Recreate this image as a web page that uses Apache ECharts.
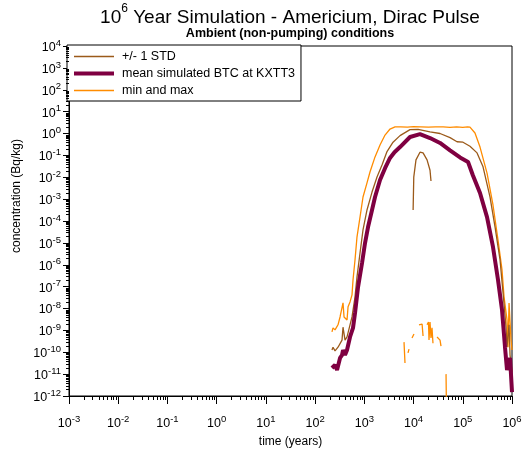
<!DOCTYPE html>
<html>
<head>
<meta charset="utf-8">
<script src="https://cdn.jsdelivr.net/npm/echarts@6/dist/echarts.min.js"></script>
<style>
  html, body { margin: 0; padding: 0; background: #fff; }
  #chart { width: 525px; height: 451px; }
</style>
</head>
<body>
<div id="chart"></div>
<script>
const FONT = "'Liberation Sans', Arial, Helvetica, sans-serif";

// Axis ranges (decade exponents of the tick labels)
const xTickExps = [-3, -2, -1, 0, 1, 2, 3, 4, 5, 6];
const yTickExps = [-12, -11, -10, -9, -8, -7, -6, -5, -4, -3, -2, -1, 0, 1, 2, 3, 4];

// Mean simulated breakthrough curve at KXTT3 (time in years, concentration in Bq/kg)
const meanTime = [220, 254, 279, 321, 352, 369, 405, 445, 512, 589, 647, 745, 898, 1033, 1189, 1433, 1649, 2083,
  2633, 3326, 4100, 5310, 8470, 13500, 21600, 34500, 55100, 87900, 128000, 161000, 224000, 311000, 411000,
  520000, 627000, 721000, 792000, 912000, 1000000];
const meanConc = [1.9e-11, 2.6e-11, 1.55e-11, 5.5e-11, 7.4e-11, 1.26e-10, 7.4e-11, 1.26e-10, 5e-10, 1.3e-9, 6.2e-9,
  9.5e-8, 1.2e-6, 9.8e-6, 5.3e-5, 3.2e-4, 1.25e-3, 7.5e-3, 0.026, 0.076, 0.14, 0.24, 0.69, 0.93, 0.62, 0.37, 0.17,
  0.08, 0.05, 0.012, 1.9e-3, 1.5e-4, 6.5e-6, 2e-7, 8.5e-9, 1.7e-10, 1.55e-11, 5.5e-11, 1.5e-12];

// Mean + 1 standard deviation
const stdHiTime = [220, 231, 254, 292, 352, 369, 405, 445, 512, 562, 647, 710, 817, 940, 1133, 1433, 1810, 2286,
  2890, 3830, 5310, 8470, 12330, 21600, 34500, 55100, 76400, 101000, 140000, 195000, 258000, 357000, 452000,
  571000, 658000, 757000, 792000, 871000, 912000, 1000000];
const stdHiConc = [1.26e-10, 1.7e-10, 1.15e-10, 1.7e-10, 3.6e-10, 1.4e-9, 3.6e-10, 5e-10, 1.8e-9, 4.1e-9, 3.4e-8,
  2.8e-7, 3.4e-6, 3.9e-5, 3.2e-4, 2.1e-3, 0.0103, 0.036, 0.15, 0.40, 0.80, 1.5, 1.55, 1.2, 1.0, 0.65, 0.42, 0.40,
  0.26, 0.13, 0.03, 1.26e-3, 5.4e-5, 1.7e-6, 5.1e-8, 1.4e-9, 1.7e-10, 1.8e-9, 7.4e-11, 1.26e-11];

// Mean - 1 standard deviation (only defined where positive)
const stdLoTime = [9800, 10100, 11200, 13500, 15600, 18800, 21600, 22600];
const stdLoConc = [3.2e-4, 0.0102, 0.062, 0.14, 0.13, 0.062, 0.021, 0.0067];

// Maximum over realizations
const maxTime = [220, 231, 254, 292, 321, 369, 387, 445, 467, 512, 562, 589, 647, 710, 817, 940, 1133, 1303, 1649,
  2083, 2633, 3326, 4200, 5500, 7500, 10000, 14000, 20000, 28000, 40000, 55000, 75000, 100000, 125000, 140000,
  177000, 224000, 311000, 411000, 520000, 627000, 689000, 792000, 830000, 871000, 912000, 955000, 1000000];
const maxConc = [8.5e-10, 1.3e-9, 1.05e-9, 1.8e-9, 4.1e-9, 1.8e-8, 4.1e-9, 3e-9, 1.2e-8, 2e-8, 4.2e-8, 2e-7, 1.7e-6,
  1.9e-5, 1.5e-4, 1.25e-3, 5.5e-3, 0.0174, 0.085, 0.30, 0.85, 1.6, 2.0, 2.0, 1.95, 2.05, 2.0, 1.95, 2.0, 2.0, 1.9,
  2.0, 1.9, 2.0, 1.95, 1.05, 0.24, 0.0155, 5.4e-4, 1.35e-5, 5.8e-7, 3.4e-8, 3e-9, 1.7e-10, 1.8e-8, 1.8e-8, 3.6e-10,
  1.26e-10];

// Minimum over realizations (null = gap, no positive value)
const minTime = [6400, 6700, 7200, 7710, 8090, 8700, 9300, 10200, 11500, 12900, 14900, 15600, 17000, 18800, 20100,
  20600, 21600, 22600, 23700, 24800, 27000, 30000, 34500, 36100, 41000, 45700, 46800];
const minConc = [2.9e-10, 3.2e-11, null, 9.3e-11, 1.4e-10, null, 4.5e-10, 6.8e-10, null, 1.8e-9, 1.95e-9, 5.5e-10,
  null, 1.8e-9, 2.4e-9, 3.6e-10, 2.4e-9, 4.5e-10, 1.3e-9, 2.6e-10, null, 5e-10, 3.6e-10, 1.9e-10, null, 1.0e-11,
  1e-13];

const X_MIN = Math.pow(10, xTickExps[0]);
const X_MAX = Math.pow(10, xTickExps[xTickExps.length - 1]);
const Y_MIN = Math.pow(10, yTickExps[0]);
const Y_MAX = Math.pow(10, yTickExps[yTickExps.length - 1]);

const pairs = (t, c) => t.map((v, i) => [v, c[i] == null ? '-' : c[i]]);

// minor tick positions (2..9 x 10^n) inside each decade
function minorValues(exps) {
  const out = [];
  for (let i = 0; i < exps.length - 1; i++) {
    for (let k = 2; k <= 9; k++) out.push(k * Math.pow(10, exps[i]));
  }
  return out;
}
const xMinor = minorValues(xTickExps).map(v => [v, Y_MIN]);
const yMinor = minorValues(yTickExps).map(v => [X_MIN, v]);

const expLabel = v => '{b|10}{sup|' + Math.round(Math.log10(v)) + '}';
const labelRich = {
  b: { fontFamily: FONT, fontSize: 12.5, color: '#000', lineHeight: 16, verticalAlign: 'bottom' },
  sup: { fontFamily: FONT, fontSize: 9.5, color: '#000', lineHeight: 7, verticalAlign: 'top' }
};

const C_STD = '#9B5A1A';
const C_MEAN = '#7F0041';
const C_MM = '#FF8C00';

const chart = echarts.init(document.getElementById('chart'), null, { renderer: 'canvas' });

chart.setOption({
  animation: false,
  backgroundColor: '#fff',
  title: [
    {
      text: '{b|10}{sup|6}{b| Year Simulation - Americium, Dirac Pulse}',
      left: 290, top: 3, textAlign: 'center', padding: 0,
      textStyle: {
        fontWeight: 'normal',
        rich: {
          b: { fontFamily: FONT, fontSize: 19, fontWeight: 'normal', color: '#000', lineHeight: 24, verticalAlign: 'bottom' },
          sup: { fontFamily: FONT, fontSize: 12, fontWeight: 'normal', color: '#000', lineHeight: 13, verticalAlign: 'top' }
        }
      }
    },
    {
      text: 'Ambient (non-pumping) conditions',
      left: 290, top: 28, textAlign: 'center', padding: 0,
      textStyle: { fontFamily: FONT, fontSize: 12.5, fontWeight: 'bold', color: '#000', lineHeight: 12 }
    }
  ],
  legend: {
    orient: 'vertical', left: 67, top: 45,
    padding: [5, 6, 4, 5], itemGap: 4, itemWidth: 40, itemHeight: 13,
    backgroundColor: '#fff', borderColor: '#000', borderWidth: 1, borderRadius: 0,
    selectedMode: false,
    itemStyle: { opacity: 0, borderWidth: 0 },
    textStyle: { fontFamily: FONT, fontSize: 12.5, color: '#000', padding: [0, 0, 0, 3] },
    data: [
      { name: '+/- 1 STD', lineStyle: { color: C_STD, width: 1.5, opacity: 1 } },
      { name: 'mean simulated BTC at KXTT3', lineStyle: { color: C_MEAN, width: 4, opacity: 1 } },
      { name: 'min and max', lineStyle: { color: C_MM, width: 1.5, opacity: 1 } }
    ]
  },
  grid: {
    left: 69, right: 13, top: 46, bottom: 55, show: true, borderColor: '#000', borderWidth: 1,
    containLabel: false, outerBoundsMode: 'none'
  },
  xAxis: {
    type: 'log', logBase: 10, min: X_MIN, max: X_MAX, interval: 1, splitNumber: 9,
    name: 'time (years)', nameLocation: 'middle', nameGap: 40,
    nameTextStyle: { fontFamily: FONT, fontSize: 12, color: '#000' },
    axisLine: { show: true, lineStyle: { color: '#000', width: 1 } },
    axisTick: { show: true, inside: false, length: 8, lineStyle: { color: '#000', width: 1 } },
    axisLabel: { margin: 18, formatter: expLabel, rich: labelRich, interval: 0, hideOverlap: false, showMinLabel: true, showMaxLabel: true },
    splitLine: { show: false }
  },
  yAxis: {
    type: 'log', logBase: 10, min: Y_MIN, max: Y_MAX, interval: 1, splitNumber: 16,
    name: 'concentration (Bq/kg)', nameLocation: 'middle', nameGap: 46,
    nameTextStyle: { fontFamily: FONT, fontSize: 12, color: '#000', padding: [0, 0, 0, 50] },
    axisLine: { show: true, lineStyle: { color: '#000', width: 1 } },
    axisTick: { show: true, inside: false, length: 6, lineStyle: { color: '#000', width: 1 } },
    axisLabel: { margin: 8, formatter: expLabel, rich: labelRich, interval: 0, hideOverlap: false, showMinLabel: true, showMaxLabel: true },
    splitLine: { show: false }
  },
  series: [
    {
      name: 'min and max', type: 'line', data: pairs(maxTime, maxConc), symbol: 'none', showSymbol: false,
      color: C_MM, lineStyle: { color: C_MM, width: 1.3 }, z: 2
    },
    {
      name: 'min and max', type: 'line', data: pairs(minTime, minConc), symbol: 'none', showSymbol: false,
      connectNulls: false, color: C_MM, lineStyle: { color: C_MM, width: 1.3 }, z: 2
    },
    {
      name: '+/- 1 STD', type: 'line', data: pairs(stdHiTime, stdHiConc), symbol: 'none', showSymbol: false,
      color: C_STD, lineStyle: { color: C_STD, width: 1.3 }, z: 3
    },
    {
      name: '+/- 1 STD', type: 'line', data: pairs(stdLoTime, stdLoConc), symbol: 'none', showSymbol: false,
      color: C_STD, lineStyle: { color: C_STD, width: 1.3 }, z: 3
    },
    {
      name: 'mean simulated BTC at KXTT3', type: 'line', data: pairs(meanTime, meanConc), symbol: 'none', showSymbol: false,
      color: C_MEAN, lineStyle: { color: C_MEAN, width: 4 }, z: 4
    },
    {
      // minor ticks along the time axis
      type: 'custom', silent: true, data: xMinor, z: 5,
      renderItem: (params, api) => {
        const p = api.coord([api.value(0), api.value(1)]);
        const x = Math.round(p[0]) + 0.5;
        const y = Math.round(p[1]);
        return { type: 'line', shape: { x1: x, y1: y, x2: x, y2: y + 4 }, style: { stroke: '#000', lineWidth: 1 } };
      }
    },
    {
      // minor ticks along the concentration axis
      type: 'custom', silent: true, data: yMinor, z: 5,
      renderItem: (params, api) => {
        const p = api.coord([api.value(0), api.value(1)]);
        const x = Math.round(p[0]);
        const y = Math.round(p[1]) + 0.5;
        return { type: 'line', shape: { x1: x - 3, y1: y, x2: x, y2: y }, style: { stroke: '#000', lineWidth: 1 } };
      }
    }
  ]
});
</script>
</body>
</html>
